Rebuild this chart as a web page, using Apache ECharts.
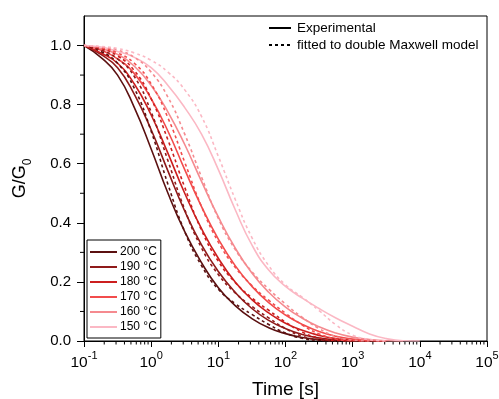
<!DOCTYPE html>
<html><head><meta charset="utf-8">
<script src="https://cdn.jsdelivr.net/npm/echarts@6/dist/echarts.min.js"></script>
<style>html,body{margin:0;padding:0;background:#fff}#c{width:499px;height:399px}</style>
</head><body><div id="c"></div>
<script>
const times = [0.1, 0.178, 0.316, 0.562, 1, 1.78, 3.16, 5.62, 10, 17.8, 31.6, 56.2, 100, 178, 316, 562, 1000, 1780, 3160, 5620, 10000];
const temps = ['200 °C', '190 °C', '180 °C', '170 °C', '160 °C', '150 °C'];
const colors = ['#5b1010', '#8f1a1a', '#cc1f1f', '#f24c4c', '#f58a8f', '#fbb8c4'];
const exp200 = [1.0, 0.96, 0.90, 0.79, 0.65, 0.50, 0.37, 0.265, 0.18, 0.12, 0.076, 0.045, 0.025, 0.012, 0.005, 0.002, 0.0];
const exp190 = [1.0, 0.97, 0.925, 0.835, 0.715, 0.575, 0.44, 0.325, 0.235, 0.165, 0.11, 0.07, 0.042, 0.022, 0.01, 0.004, 0.001, 0.0];
const exp180 = [1.0, 0.975, 0.94, 0.87, 0.765, 0.635, 0.50, 0.38, 0.28, 0.20, 0.14, 0.095, 0.06, 0.036, 0.019, 0.008, 0.003, 0.001, 0.0];
const exp170 = [1.0, 0.985, 0.955, 0.905, 0.82, 0.71, 0.58, 0.455, 0.345, 0.255, 0.185, 0.13, 0.088, 0.056, 0.032, 0.016, 0.007, 0.002, 0.0];
const exp160 = [1.0, 0.99, 0.97, 0.93, 0.865, 0.775, 0.665, 0.54, 0.42, 0.315, 0.23, 0.165, 0.115, 0.077, 0.048, 0.027, 0.013, 0.005, 0.001, 0.0];
const exp150 = [1.0, 0.995, 0.98, 0.96, 0.925, 0.865, 0.79, 0.70, 0.58, 0.445, 0.325, 0.24, 0.185, 0.145, 0.11, 0.078, 0.05, 0.024, 0.008, 0.001, 0.0];
const fit200 = [1.0, 0.98, 0.94, 0.855, 0.71, 0.53, 0.37, 0.255, 0.175, 0.127, 0.09, 0.056, 0.027, 0.009, 0.002, 0.0];
const fit190 = [1.0, 0.985, 0.955, 0.895, 0.775, 0.61, 0.445, 0.315, 0.225, 0.163, 0.117, 0.078, 0.042, 0.016, 0.004, 0.0];
const fit180 = [1.0, 0.99, 0.965, 0.915, 0.82, 0.68, 0.52, 0.375, 0.27, 0.198, 0.146, 0.104, 0.064, 0.03, 0.01, 0.002, 0.0];
const fit170 = [1.0, 0.993, 0.975, 0.94, 0.87, 0.755, 0.605, 0.455, 0.335, 0.25, 0.188, 0.138, 0.094, 0.054, 0.024, 0.007, 0.001, 0.0];
const fit160 = [1.0, 0.995, 0.985, 0.96, 0.91, 0.825, 0.70, 0.555, 0.415, 0.31, 0.235, 0.176, 0.125, 0.08, 0.042, 0.015, 0.003, 0.0];
const fit150 = [1.0, 0.997, 0.99, 0.975, 0.95, 0.91, 0.85, 0.76, 0.625, 0.48, 0.35, 0.255, 0.19, 0.148, 0.103, 0.055, 0.02, 0.005, 0.0];
const xTicks = [0.1, 1, 10, 100, 1000, 10000, 100000];
const yTicks = [0, 0.2, 0.4, 0.6, 0.8, 1.0];
const yMinor = [0.1, 0.3, 0.5, 0.7, 0.9];
const xMinorFactors = [2, 3, 4, 5, 6, 7, 8, 9];

const expSets = [exp200, exp190, exp180, exp170, exp160, exp150];
const fitSets = [fit200, fit190, fit180, fit170, fit160, fit150];
const pairs = arr => arr.map((g, i) => [times[i], g]);
const FONT = 'Liberation Sans, Arial, sans-serif';

const xMinor = [];
xTicks.slice(0, -1).forEach(d => xMinorFactors.forEach(f => xMinor.push(+(d * f).toPrecision(3))));

const series = [];
temps.forEach((name, i) => {
  series.push({ name: name, type: 'line', data: pairs(expSets[i]), showSymbol: false, symbol: 'none',
    smooth: 0.5, lineStyle: { color: colors[i], width: 1.6 }, itemStyle: { color: colors[i] }, z: 3 });
});
temps.forEach((name, i) => {
  series.push({ name: name + ' fit', type: 'line', data: pairs(fitSets[i]), showSymbol: false, symbol: 'none',
    smooth: 0.5, lineStyle: { color: colors[i], width: 1.6, type: [3, 3] }, itemStyle: { color: colors[i] }, z: 3 });
});
series.push({ name: 'Experimental', type: 'line', data: [], symbol: 'none',
  lineStyle: { color: '#000', width: 1.6 }, itemStyle: { color: '#000' } });
series.push({ name: 'fitted to double Maxwell model', type: 'line', data: [], symbol: 'none',
  lineStyle: { color: '#000', width: 1.6, type: [3, 3] }, itemStyle: { color: '#000' } });
series.push({ type: 'custom', silent: true, clip: false, data: xMinor.map(v => [v, 0]),
  renderItem: (params, api) => { const p = api.coord([api.value(0), 0]);
    return { type: 'line', shape: { x1: p[0], y1: p[1], x2: p[0], y2: p[1] + 3.5 }, style: { stroke: '#000', lineWidth: 1 } }; } });
series.push({ type: 'custom', silent: true, clip: false, data: yMinor.map(v => [0.1, v]),
  renderItem: (params, api) => { const p = api.coord([0.1, api.value(1)]);
    return { type: 'line', shape: { x1: p[0], y1: p[1], x2: p[0] - 4, y2: p[1] }, style: { stroke: '#000', lineWidth: 1 } }; } });

const chart = echarts.init(document.getElementById('c'), null, { renderer: 'canvas' });
chart.setOption({
  animation: false,
  textStyle: { fontFamily: FONT, color: '#000' },
  grid: { left: 84, right: 12, top: 16, bottom: 58, show: true, borderColor: '#000', borderWidth: 1,
    containLabel: false, outerBoundsMode: 'none' },
  legend: [
    { data: ['Experimental', 'fitted to double Maxwell model'], orient: 'vertical', left: 268, top: 21,
      itemWidth: 22, itemHeight: 14, itemGap: 3, padding: 0, selectedMode: false,
      itemStyle: { opacity: 0 },
      textStyle: { fontSize: 13.5, color: '#000', fontFamily: FONT, padding: [0, 0, 0, 1] } },
    { data: temps, orient: 'vertical', left: 87, top: 240, width: 73,
      itemWidth: 27, itemHeight: 12, itemGap: 3, padding: [6, 4, 5, 2], selectedMode: false,
      itemStyle: { opacity: 0 },
      borderColor: '#000', borderWidth: 1, backgroundColor: '#fff',
      textStyle: { fontSize: 12, lineHeight: 12, color: '#000', padding: [0, 0, 0, -2], fontFamily: FONT } }
  ],
  xAxis: {
    type: 'log', logBase: 10, min: 0.1, max: 100000,
    name: 'Time [s]', nameLocation: 'middle', nameGap: 39,
    nameTextStyle: { fontSize: 19, color: '#000', fontFamily: FONT },
    axisLine: { lineStyle: { color: '#000', width: 1 } },
    axisTick: { show: true, inside: false, length: 6, customValues: xTicks, lineStyle: { color: '#000' } },
    splitLine: { show: false },
    axisLabel: { customValues: xTicks, margin: 9, color: '#000',
      formatter: v => '{b|10}{s|' + Math.round(Math.log10(v)) + '}',
      rich: { b: { fontSize: 15.5, lineHeight: 21, verticalAlign: 'bottom', color: '#000', fontFamily: FONT },
              s: { fontSize: 11, lineHeight: 11, verticalAlign: 'top', color: '#000', fontFamily: FONT } } }
  },
  yAxis: {
    type: 'value', min: 0, max: 1.1,
    name: 'G/G{sub|0}', nameLocation: 'middle', nameGap: 50, nameRotate: 90,
    nameTextStyle: { fontSize: 18, color: '#000', fontFamily: FONT,
      rich: { sub: { fontSize: 12, verticalAlign: 'bottom', lineHeight: 28, color: '#000', fontFamily: FONT } } },
    axisLine: { show: true, lineStyle: { color: '#000', width: 1 } },
    axisTick: { show: true, inside: false, length: 7, customValues: yTicks, lineStyle: { color: '#000' } },
    splitLine: { show: false },
    axisLabel: { customValues: yTicks, margin: 13, fontSize: 15, color: '#000', formatter: v => v.toFixed(1) }
  },
  series: series
});
</script></body></html>
